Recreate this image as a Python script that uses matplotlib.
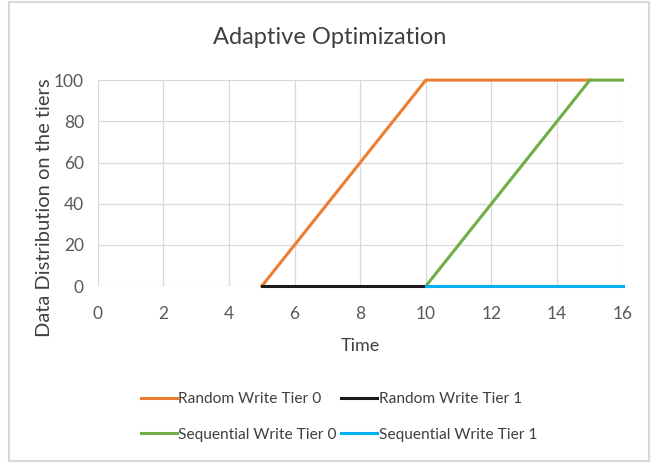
import matplotlib.pyplot as plt
from matplotlib.patches import Rectangle

plt.rcParams['font.family'] = ['Lato', 'DejaVu Sans']

# data
rand_t0_x = [5, 6, 7, 8, 9, 10, 11, 12, 13, 14, 15]
rand_t0_y = [0, 20, 40, 60, 80, 100, 100, 100, 100, 100, 100]
rand_t1_x = [5, 6, 7, 8, 9, 10]
rand_t1_y = [0, 0, 0, 0, 0, 0]
seq_t0_x = [10, 11, 12, 13, 14, 15, 16]
seq_t0_y = [0, 20, 40, 60, 80, 100, 100]
seq_t1_x = [10, 11, 12, 13, 14, 15, 16]
seq_t1_y = [0, 0, 0, 0, 0, 0, 0]

xticks = list(range(0, 17, 2))
yticks = list(range(0, 101, 20))

W, H = 652, 463
fig = plt.figure(figsize=(W / 100, H / 100), dpi=100)
ax = fig.add_axes([0.150, 0.382, 0.805, 0.445])

lw = 2.2
l1, = ax.plot(rand_t0_x, rand_t0_y, color='#ED7D31', lw=lw, label='Random Write Tier 0', zorder=3, clip_on=False)
l2, = ax.plot(rand_t1_x, rand_t1_y, color='#1a1a1a', lw=lw, label='Random Write Tier 1', zorder=4, clip_on=False)
l3, = ax.plot(seq_t0_x, seq_t0_y, color='#70AD47', lw=lw, label='Sequential Write Tier 0', zorder=3, clip_on=False)
l4, = ax.plot(seq_t1_x, seq_t1_y, color='#00B0F0', lw=lw, label='Sequential Write Tier 1', zorder=4, clip_on=False)

ax.set_xlim(0, 16)
ax.set_ylim(0, 100)
ax.set_xticks(xticks)
ax.set_yticks(yticks)
ax.grid(True, color='#D9D9D9', lw=0.9)
ax.set_axisbelow(True)
for s in ax.spines.values():
    s.set_visible(False)
ax.tick_params(length=0, colors='#595959', labelsize=12.5)
ax.tick_params(axis='x', pad=14)
ax.tick_params(axis='y', pad=10)

fig.text(330 / W, 1 - 38 / H, 'Adaptive Optimization', fontsize=17, color='#404040',
         ha='center', va='center')
ax.set_xlabel('Time', fontsize=13, color='#404040', labelpad=12)
fig.text(45 / W, 1 - 208 / H, 'Data Distribution on the tiers', fontsize=14.5,
         color='#404040', rotation=90, ha='center', va='center')

fig.legend([l1, l3, l2, l4], [l.get_label() for l in [l1, l3, l2, l4]],
           ncol=2, loc='center', bbox_to_anchor=(339 / W, 1 - 417 / H), frameon=False,
           fontsize=11.2, handlelength=2.3, handletextpad=0.1, columnspacing=0.3,
           labelspacing=1.4, labelcolor='#404040')

fig.patches.append(Rectangle((9 / W, 2 / H), 640 / W, 459 / H,
                             transform=fig.transFigure, fill=False,
                             edgecolor='#D9D9D9', lw=1.5))

fig.savefig('out.png', dpi=100)
